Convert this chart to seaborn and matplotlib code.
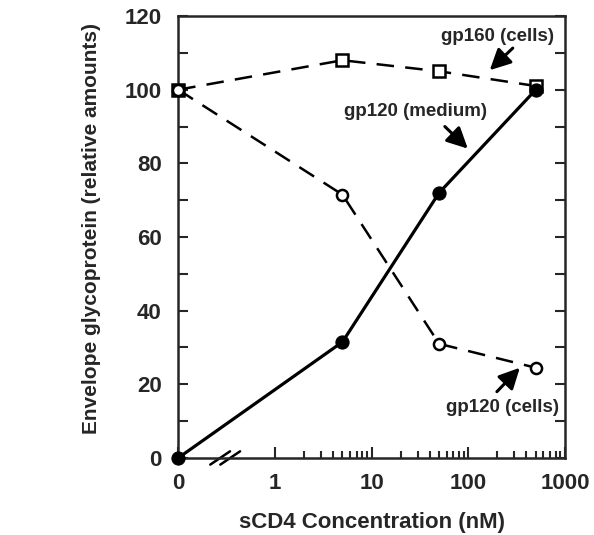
import numpy as np
import pandas as pd
import seaborn as sns
import matplotlib.pyplot as plt
from matplotlib.ticker import FixedLocator, NullFormatter

# dados (sCD4 em nM)
conc = [0, 5, 50, 500]
gp160_cells = [100, 108, 105, 101]
gp120_cells = [100, 71.5, 31, 24.5]
gp120_medium = [0, 31.5, 72, 100]

zero_pos = 0.1  # onde o "0" fica no eixo log (antes da quebra)
xticks = [zero_pos, 1, 10, 100, 1000]
xticklabels = ['0', '1', '10', '100', '1000']

sns.set_style('ticks')
plt.rcParams['font.family'] = ['Liberation Sans', 'DejaVu Sans']
plt.rcParams['font.weight'] = 'bold'

x = [c if c > 0 else zero_pos for c in conc]
df = pd.DataFrame({'x': x, 'gp160_cells': gp160_cells,
                   'gp120_cells': gp120_cells, 'gp120_medium': gp120_medium})

fig = plt.figure(figsize=(5.94, 5.35), dpi=100)
ax = fig.add_axes([0.3, 0.144, 0.651, 0.826])

dash = (0, (7, 4.5))
sns.lineplot(data=df, x='x', y='gp160_cells', ax=ax, color='black', lw=1.8,
             marker='s', markersize=8, markerfacecolor='white', markeredgecolor='black',
             markeredgewidth=1.8, linestyle=dash, zorder=3, clip_on=False)
sns.lineplot(data=df, x='x', y='gp120_cells', ax=ax, color='black', lw=1.8,
             marker='o', markersize=8, markerfacecolor='white', markeredgecolor='black',
             markeredgewidth=1.8, linestyle=dash, zorder=3, clip_on=False)
sns.lineplot(data=df, x='x', y='gp120_medium', ax=ax, color='black', lw=2.3,
             marker='o', markersize=9.5, markerfacecolor='black', markeredgecolor='black',
             zorder=4, clip_on=False)

ax.set_xscale('log')
ax.set_xlim(zero_pos, 1000)
ax.set_ylim(0, 120)
ax.set_xticks(xticks)
ax.set_xticklabels(xticklabels)
minor = [m * 10 ** d for d in range(0, 3) for m in range(2, 10)]
ax.xaxis.set_minor_locator(FixedLocator(minor))
ax.xaxis.set_minor_formatter(NullFormatter())
ax.set_yticks(range(0, 121, 20))
ax.set_yticks(range(10, 120, 20), minor=True)

ax.tick_params(axis='both', which='both', direction='in', width=1.5)
ax.tick_params(axis='both', which='major', length=8, labelsize=16)
ax.tick_params(axis='x', which='major', pad=11)
ax.tick_params(axis='y', which='major', pad=12)
ax.tick_params(axis='both', which='minor', length=5)
ax.tick_params(axis='y', which='both', right=True, length=7)
for s in ax.spines.values():
    s.set_linewidth(1.8)

ax.set_xlabel('sCD4 Concentration (nM)', fontsize=16, fontweight='bold', labelpad=13)
ax.set_ylabel('Envelope glycoprotein (relative amounts)', fontsize=15,
              fontweight='bold')
ax.yaxis.set_label_coords(-0.2, 0.52)

# marcas de quebra no eixo x
for x0 in (0.083, 0.109):
    ax.plot([x0, x0 + 0.051], [-0.015, 0.015], transform=ax.transAxes,
            color='black', lw=1.8, clip_on=False)

arrow = dict(arrowstyle='-|>,head_length=0.9,head_width=0.45', color='black', lw=2.2,
             shrinkA=0, shrinkB=0, mutation_scale=14)
ax.text(202, 114.5, 'gp160 (cells)', ha='center', va='center', fontsize=13.5, fontweight='bold')
ax.annotate('', xy=(167, 105.3), xytext=(289, 111.3), arrowprops=arrow)
ax.text(28.7, 94.1, 'gp120 (medium)', ha='center', va='center', fontsize=13.5, fontweight='bold')
ax.annotate('', xy=(99, 84), xytext=(57.3, 90), arrowprops=arrow)
ax.text(228, 13.6, 'gp120 (cells)', ha='center', va='center', fontsize=13.5, fontweight='bold')
ax.annotate('', xy=(342, 24.5), xytext=(198, 18), arrowprops=arrow)

if ax.get_legend():
    ax.get_legend().remove()

fig.savefig('out.png', dpi=100)
